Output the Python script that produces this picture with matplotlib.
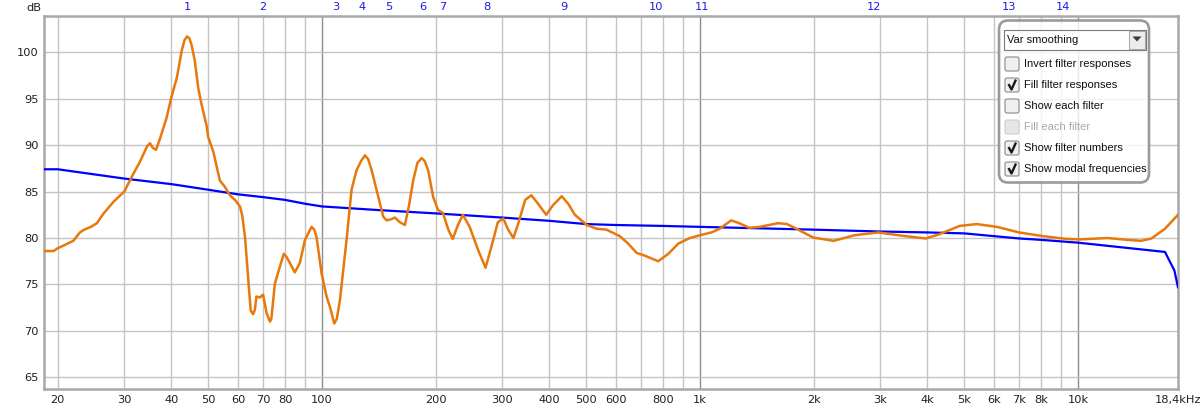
import matplotlib
matplotlib.use("Agg")
import matplotlib.pyplot as plt
from matplotlib.patches import FancyBboxPatch, Rectangle, Polygon
from matplotlib.transforms import blended_transform_factory

# ---------------- data ----------------
resp_freq = [18.4, 19.5, 20.0, 21.0, 22.0, 22.9, 23.5, 24.5, 25.4, 26.4, 28.1, 30.0,
             31.7, 33.0, 34.5, 35.1, 35.7, 36.4, 37.3, 38.8, 40.0, 41.3, 42.6, 43.3,
             44.0, 44.6, 45.2, 46.1, 47.1, 48.1, 49.6, 50.0, 51.6, 53.7, 55.4, 57.1,
             58.9, 60.7, 61.5, 62.6, 63.8, 64.8, 65.8, 66.5, 67.1, 68.5, 69.9, 71.4,
             72.9, 73.5, 75.1, 77.4, 79.3, 80.5, 82.3, 84.8, 87.4, 90.2, 93.9, 95.5,
             96.8, 99.8, 102.9, 105.0, 107.8, 109.5, 111.6, 116.2, 119.8, 123.5, 127.0,
             130.0, 132.5, 135.4, 141.0, 145.3, 148.3, 152.0, 156.0, 160.8, 165.8,
             170.0, 174.4, 179.0, 183.6, 187.0, 191.0, 197.0, 203.0, 209.0, 216.0,
             221.9, 229.0, 236.0, 246.0, 259.0, 271.0, 281.0, 292.0, 302.0, 311.0,
             321.0, 331.0, 345.0, 358.0, 373.0, 392.0, 408.0, 431.0, 448.0, 467.0,
             502.0, 533.0, 566.0, 614.0, 646.0, 680.0, 715.0, 776.0, 825.0, 877.0,
             941.0, 1000, 1073, 1128, 1210, 1270, 1350, 1440, 1612, 1700, 1800, 1993,
             2260, 2566, 2963, 3494, 3961, 4295, 4865, 5397, 6107, 6990, 8082, 9346,
             10150, 11970, 13540, 14700, 15650, 17000, 18400]
resp_db = [78.6, 78.6, 78.9, 79.3, 79.7, 80.6, 80.9, 81.2, 81.6, 82.6, 83.9, 85.0,
           86.9, 88.2, 89.9, 90.2, 89.7, 89.5, 90.7, 92.9, 95.2, 97.2, 100.2, 101.3,
           101.7, 101.5, 100.8, 99.1, 96.1, 94.3, 92.0, 90.9, 89.3, 86.2, 85.5, 84.6,
           84.1, 83.4, 82.5, 80.1, 75.8, 72.2, 71.8, 72.3, 73.7, 73.6, 73.9, 71.9,
           71.0, 71.3, 75.1, 76.9, 78.3, 78.0, 77.3, 76.3, 77.3, 79.8, 81.2, 80.9,
           80.1, 76.2, 73.7, 72.6, 70.8, 71.3, 73.3, 79.8, 85.2, 87.3, 88.3,
           88.9, 88.5, 87.3, 84.4, 82.3, 81.9, 82.0, 82.2, 81.7, 81.4,
           83.5, 86.2, 88.1, 88.6, 88.3, 87.3, 84.4, 83.0, 82.7, 80.9,
           79.9, 81.4, 82.5, 81.2, 78.7, 76.8, 79.1, 81.7, 82.1, 80.9,
           80.0, 81.6, 84.1, 84.6, 83.7, 82.5, 83.5, 84.5, 83.7, 82.5,
           81.4, 81.0, 80.9, 80.2, 79.4, 78.4, 78.1, 77.5, 78.3, 79.4,
           80.0, 80.3, 80.6, 81.0, 81.9, 81.6, 81.1, 81.2, 81.6, 81.5, 81.0, 80.05,
           79.7, 80.3, 80.6, 80.2, 79.95, 80.4, 81.3, 81.5, 81.2, 80.6, 80.2, 79.9,
           79.85, 80.0, 79.8, 79.7, 79.95, 81.0, 82.5]

target_freq = [18.4, 20.0, 30, 40, 50, 60, 70, 80, 90, 100, 142, 200, 300, 400, 500,
               600, 800, 1000, 2000, 3000, 4000, 5000, 6000, 7000, 8000, 10000, 17000,
               18000, 18400]
target_db = [87.4, 87.4, 86.4, 85.8, 85.2, 84.7, 84.4, 84.1, 83.7, 83.4, 83.0, 82.65,
             82.2, 81.85, 81.5, 81.4, 81.3, 81.2, 80.9, 80.7, 80.6, 80.5, 80.2, 79.95,
             79.8, 79.5, 78.5, 76.5, 74.7]

modal_freqs = [44.0, 69.8, 108.9, 127.6, 150.4, 185, 209, 273, 437, 766, 1010,
               2886, 6580, 9120]
modal_labels = [str(i) for i in range(1, 15)]

xtick_vals = [20, 30, 40, 50, 60, 70, 80, 100, 200, 300, 400, 500, 600, 800, 1000,
              2000, 3000, 4000, 5000, 6000, 7000, 8000, 10000, 18400]
xtick_labels = ["20", "30", "40", "50", "60", "70", "80", "100", "200", "300", "400",
                "500", "600", "800", "1k", "2k", "3k", "4k", "5k", "6k", "7k", "8k",
                "10k", "18,4kHz"]
ytick_vals = [65, 70, 75, 80, 85, 90, 95, 100]

options = [("Invert filter responses", False, True),
           ("Fill filter responses", True, True),
           ("Show each filter", False, True),
           ("Fill each filter", False, False),
           ("Show filter numbers", True, True),
           ("Show modal frequencies", True, True)]
dropdown_text = "Var smoothing"

# ---------------- figure ----------------
W, H = 1200, 413
fig = plt.figure(figsize=(W / 100, H / 100), dpi=100)
fig.patch.set_facecolor("white")

L, R, T, B = 44, 1178, 16, 388.5
ax = fig.add_axes([L / W, 1 - B / H, (R - L) / W, (B - T) / H])
ax.set_xscale("log")
ax.set_xlim(18.4, 18400)
ax.set_ylim(63.8, 103.9)

# grid
for dec in [10, 100, 1000]:
    for m in range(1, 10):
        f = dec * m
        if f < 18.4 or f > 18400 or f == 10:
            continue
        dark = m == 1
        ax.axvline(f, color="#8c8c8c" if dark else "#c4c4c4", lw=1.0, zorder=1)
ax.axvline(10000, color="#8c8c8c", lw=1.0, zorder=1)
for y in ytick_vals:
    ax.axhline(y, color="#c4c4c4", lw=1.0, zorder=1)

ax.plot(target_freq, target_db, color="#0000ff", lw=1.6, zorder=3)
ax.plot(resp_freq, resp_db, color="#e8780c", lw=1.8, zorder=4)

ax.set_xticks(xtick_vals)
ax.set_xticklabels(xtick_labels)
ax.xaxis.set_minor_locator(matplotlib.ticker.NullLocator())
ax.set_yticks(ytick_vals)
ax.tick_params(axis="both", length=0, labelsize=8.2, labelcolor="#202020")
ax.tick_params(axis="x", pad=5)
ax.tick_params(axis="y", pad=4)
for s in ax.spines.values():
    s.set_color("#a8a8a8")
    s.set_linewidth(1.8)

trans = blended_transform_factory(ax.transData, ax.transAxes)
for f, lab in zip(modal_freqs, modal_labels):
    ax.text(f, 1.024, lab, transform=trans, ha="center", va="center",
            color="#1a1ae6", fontsize=8.2, clip_on=False)

fig.text(26 / W, 1 - 8 / H, "dB", ha="left", va="center", fontsize=8.2, color="#202020")

# ---------------- option panel (pixel coords overlay) ----------------
ov = fig.add_axes([0, 0, 1, 1])
ov.set_xlim(0, W)
ov.set_ylim(H, 0)
ov.axis("off")
ov.patch.set_alpha(0)

panel = FancyBboxPatch((999, 20.5), 150, 162, boxstyle="round,pad=0,rounding_size=9",
                       facecolor=(1, 1, 1, 0.82), edgecolor="#9a9a9a", lw=1.9, zorder=5)
ov.add_patch(panel)

ov.add_patch(Rectangle((1003.5, 29.5), 142, 20, facecolor="white", edgecolor="#7a7a7a",
                       lw=0.8, zorder=6))
ov.add_patch(Rectangle((1129, 30.5), 16, 18, facecolor="#ececec", edgecolor="#9a9a9a",
                       lw=0.6, zorder=7))
ov.add_patch(Polygon([(1132.5, 36.5), (1141.5, 36.5), (1137, 41.5)], closed=True,
                     facecolor="#3a3a3a", edgecolor="none", zorder=8))
ov.text(1007, 40, dropdown_text, ha="left", va="center", fontsize=8,
        family="Liberation Sans", color="#101010", zorder=8)

row_y0 = 64
row_step = 21
for i, (lab, checked, enabled) in enumerate(options):
    cy = row_y0 + i * row_step
    ov.add_patch(FancyBboxPatch((1005, cy - 7), 14, 14,
                                boxstyle="round,pad=0,rounding_size=2",
                                facecolor="#f0f0f0" if enabled else "#e6e6e6",
                                edgecolor="#8a8a8a" if enabled else "#cccccc",
                                lw=0.8, zorder=7))
    if checked:
        ov.plot([1008.5, 1011.5, 1016], [cy - 1, cy + 4.5, cy - 5.5], color="#1a1a1a",
                lw=1.7, solid_capstyle="butt", zorder=8)
    ov.text(1024.5, cy, lab, ha="left", va="center", fontsize=8,
            family="Liberation Sans", color="#101010" if enabled else "#a8a8a8",
            zorder=8)

fig.savefig("out.png", dpi=100)
